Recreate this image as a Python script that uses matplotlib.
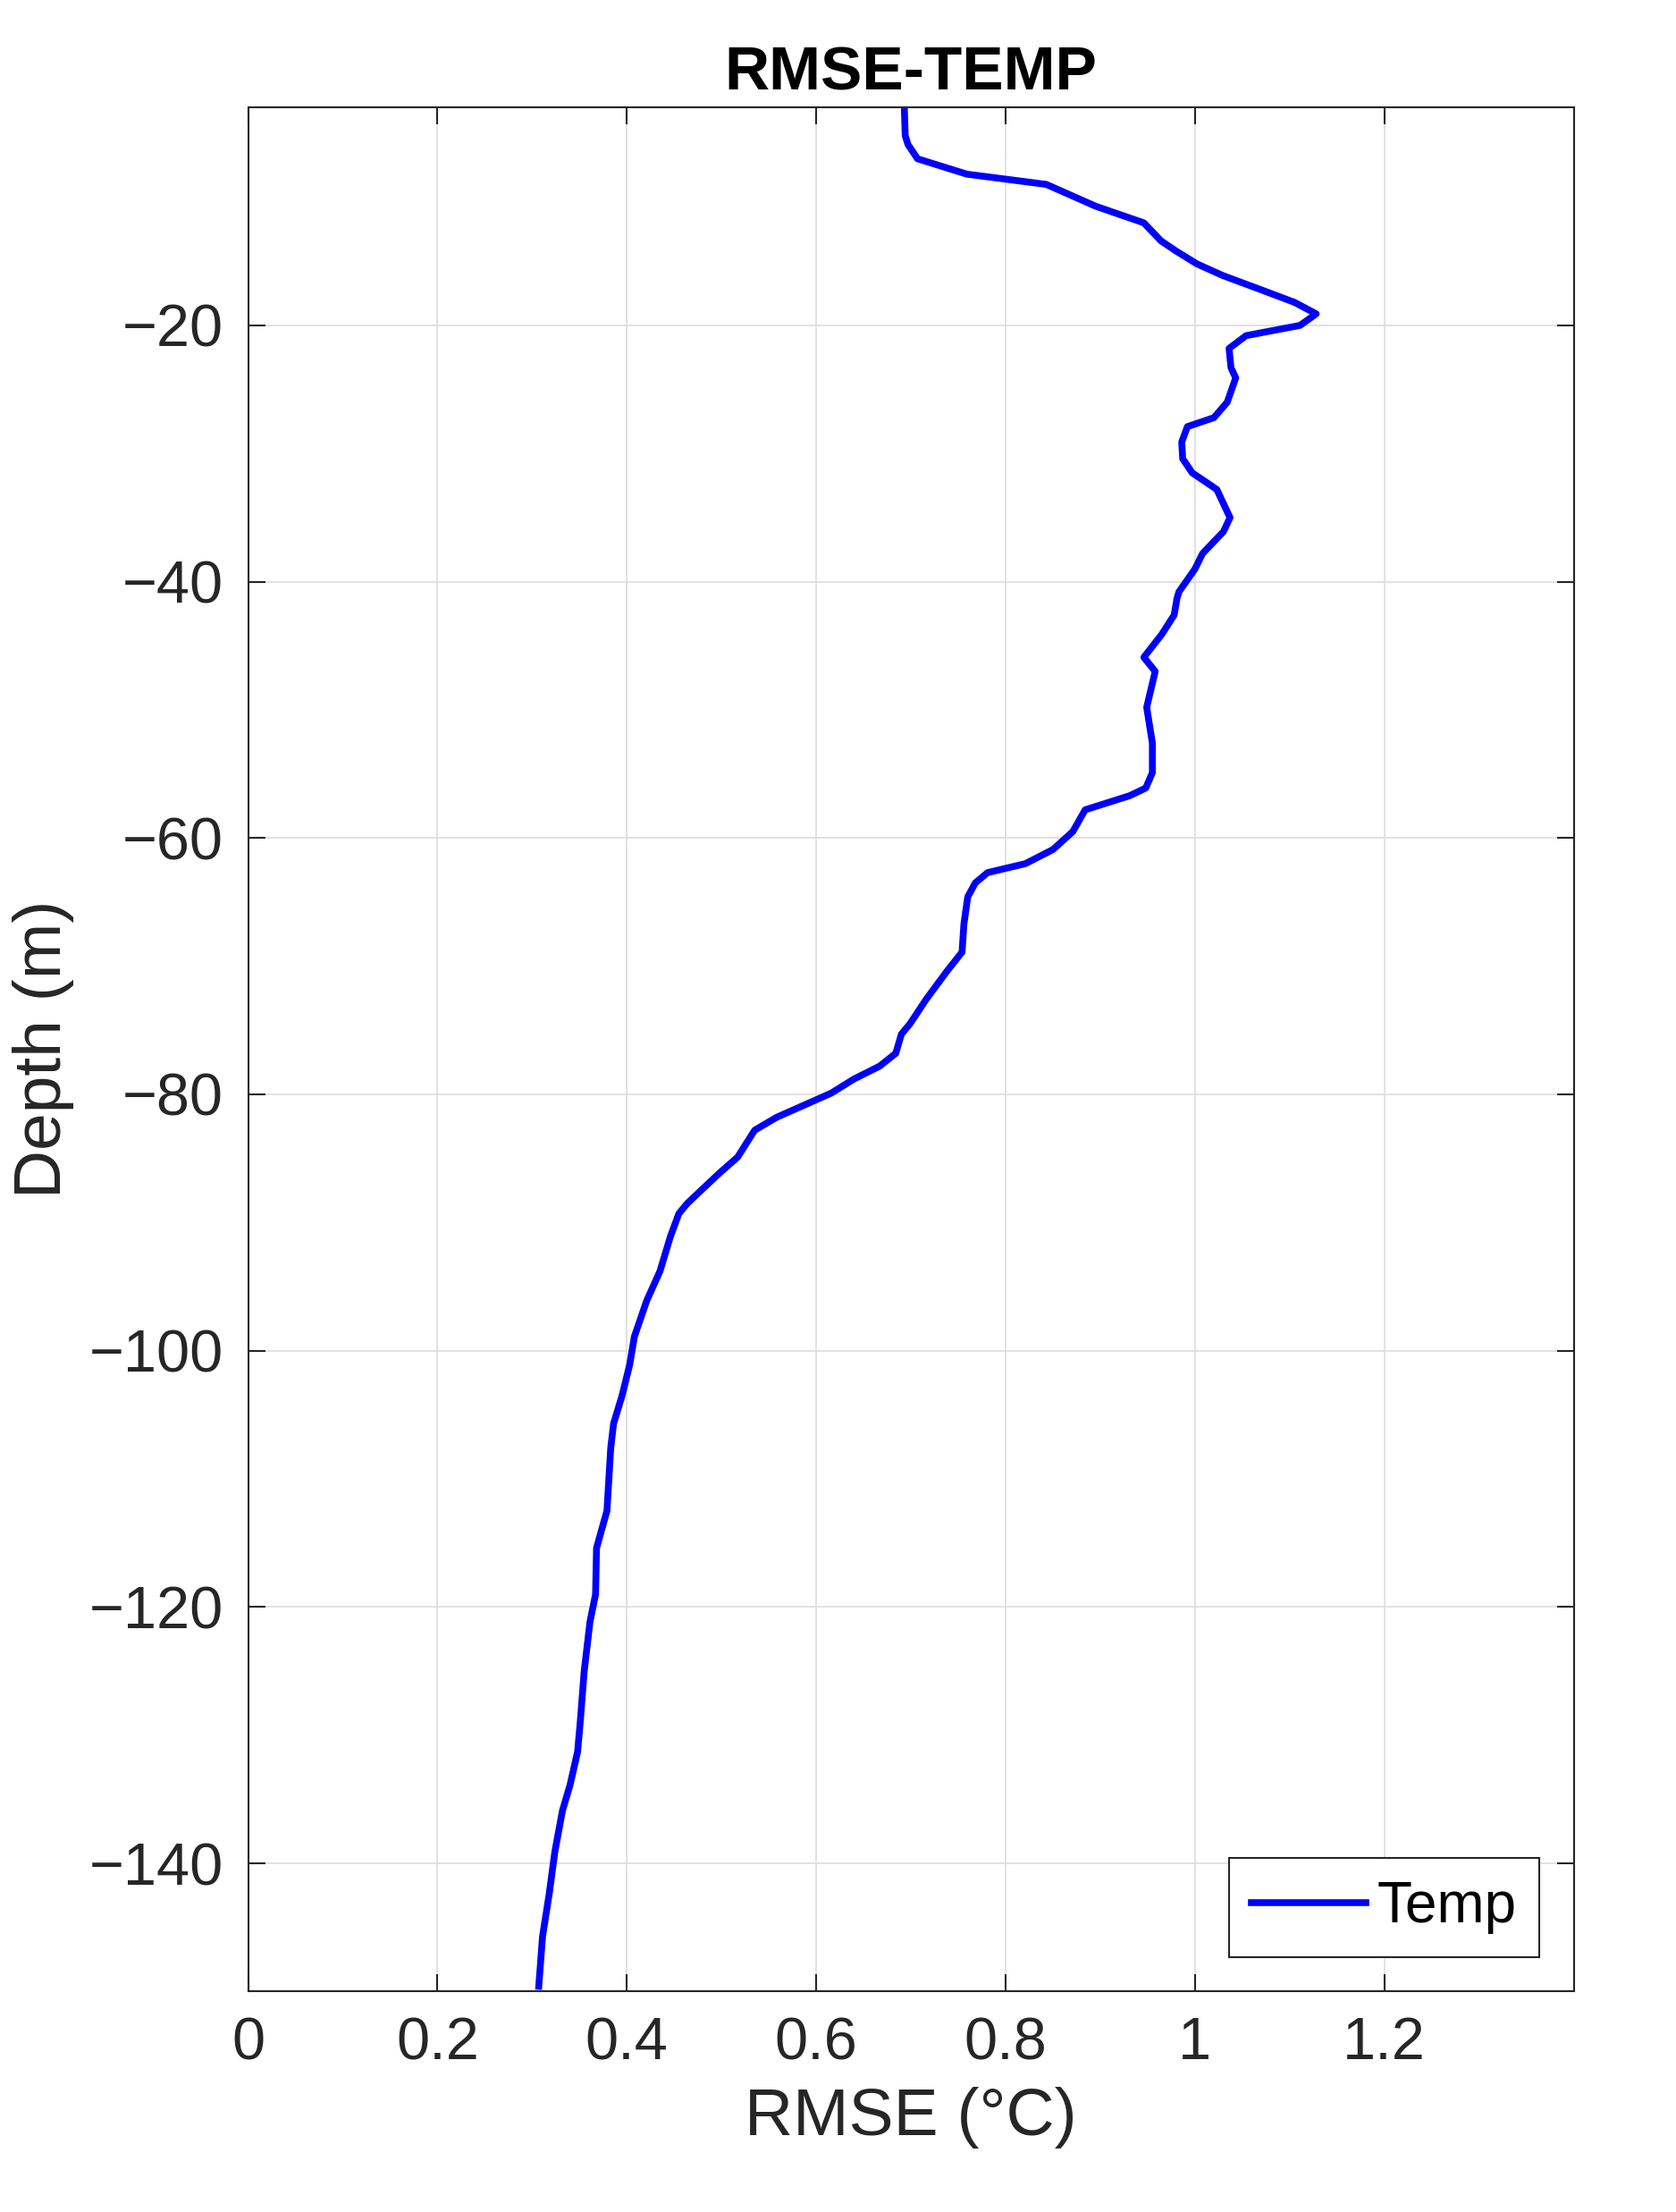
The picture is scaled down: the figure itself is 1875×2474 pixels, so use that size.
import numpy as np
import matplotlib.pyplot as plt

# RMSE of temperature vs depth
rmse = [0.693, 0.694, 0.697, 0.707, 0.759, 0.843, 0.895, 0.946, 0.964, 0.980,
        1.002, 1.029, 1.069, 1.105, 1.128, 1.111, 1.054, 1.036, 1.038, 1.043,
        1.034, 1.020, 0.992, 0.986, 0.987, 0.997, 1.023, 1.037, 1.030, 1.008,
        1.000, 0.983, 0.981, 0.978, 0.965, 0.946, 0.958, 0.949, 0.955, 0.955,
        0.948, 0.931, 0.884, 0.871, 0.850, 0.821, 0.781, 0.768, 0.760, 0.756,
        0.754, 0.738, 0.729, 0.716, 0.699, 0.690, 0.684, 0.667, 0.640, 0.616,
        0.558, 0.535, 0.517, 0.497, 0.464, 0.455, 0.446, 0.435, 0.421, 0.408,
        0.403, 0.395, 0.386, 0.383, 0.379, 0.368, 0.367, 0.361, 0.355, 0.351,
        0.348, 0.340, 0.332, 0.324, 0.318, 0.311, 0.307]
depth = [-2.9, -5.2, -5.9, -7.0, -8.2, -9.0, -10.7, -12.0, -13.4, -14.2,
         -15.2, -16.1, -17.2, -18.2, -19.1, -20.0, -20.8, -21.8, -23.3, -24.1,
         -26.0, -27.2, -27.9, -29.1, -30.4, -31.5, -32.8, -35.0, -36.1, -37.8,
         -39.0, -40.8, -41.3, -42.6, -44.1, -45.9, -47.0, -49.8, -52.6, -54.9,
         -56.1, -56.7, -57.8, -59.5, -60.9, -62.0, -62.7, -63.5, -64.6, -66.7,
         -68.9, -70.4, -71.3, -72.6, -74.5, -75.3, -76.8, -77.8, -78.8, -79.9,
         -81.8, -82.8, -84.9, -86.2, -88.5, -89.3, -91.1, -93.8, -96.1, -98.9,
         -101.1, -103.5, -105.7, -107.6, -112.5, -115.4, -119.0, -121.2, -125.0, -128.8,
         -131.3, -133.9, -135.9, -139.1, -142.4, -145.7, -149.6]

plt.rcParams['font.family'] = ['Liberation Sans', 'DejaVu Sans']
fig = plt.figure(figsize=(18.75, 24.74), dpi=100)
ax = fig.add_axes([0.148, 0.0997, 0.791, 0.8517])

ax.plot(rmse, depth, color='#0000ff', lw=5.5, label='Temp')
ax.set_xlim(0, 1.4)
ax.set_ylim(-150, -3)
ax.set_xticks([0, 0.2, 0.4, 0.6, 0.8, 1.0, 1.2])
ax.set_xticklabels(['0', '0.2', '0.4', '0.6', '0.8', '1', '1.2'])
ax.set_yticks([-140, -120, -100, -80, -60, -40, -20])
ax.set_yticklabels(['\u2212140', '\u2212120', '\u2212100', '\u221280', '\u221260', '\u221240', '\u221220'])
ax.grid(True, color='#dddddd', lw=1.2)
ax.tick_params(direction='in', length=14, width=1.5, top=True, right=True,
               labelsize=48, colors='#262626', pad=20)
for s in ax.spines.values():
    s.set_linewidth(1.5)
    s.set_color('#262626')

ax.set_xlabel('RMSE (°C)', fontsize=54, color='#262626', labelpad=12)
ax.set_ylabel('Depth (m)', fontsize=54, color='#262626', labelpad=12)
ax.set_title('RMSE-TEMP', fontsize=50, fontweight='bold', pad=14)

leg = ax.legend(loc='lower right', fontsize=46, fancybox=False, framealpha=1,
                edgecolor='#262626', handlelength=2.0, handletextpad=0.2,
                borderaxespad=0.6)
leg.get_frame().set_linewidth(1.5)

fig.savefig('out.png', dpi=100)
